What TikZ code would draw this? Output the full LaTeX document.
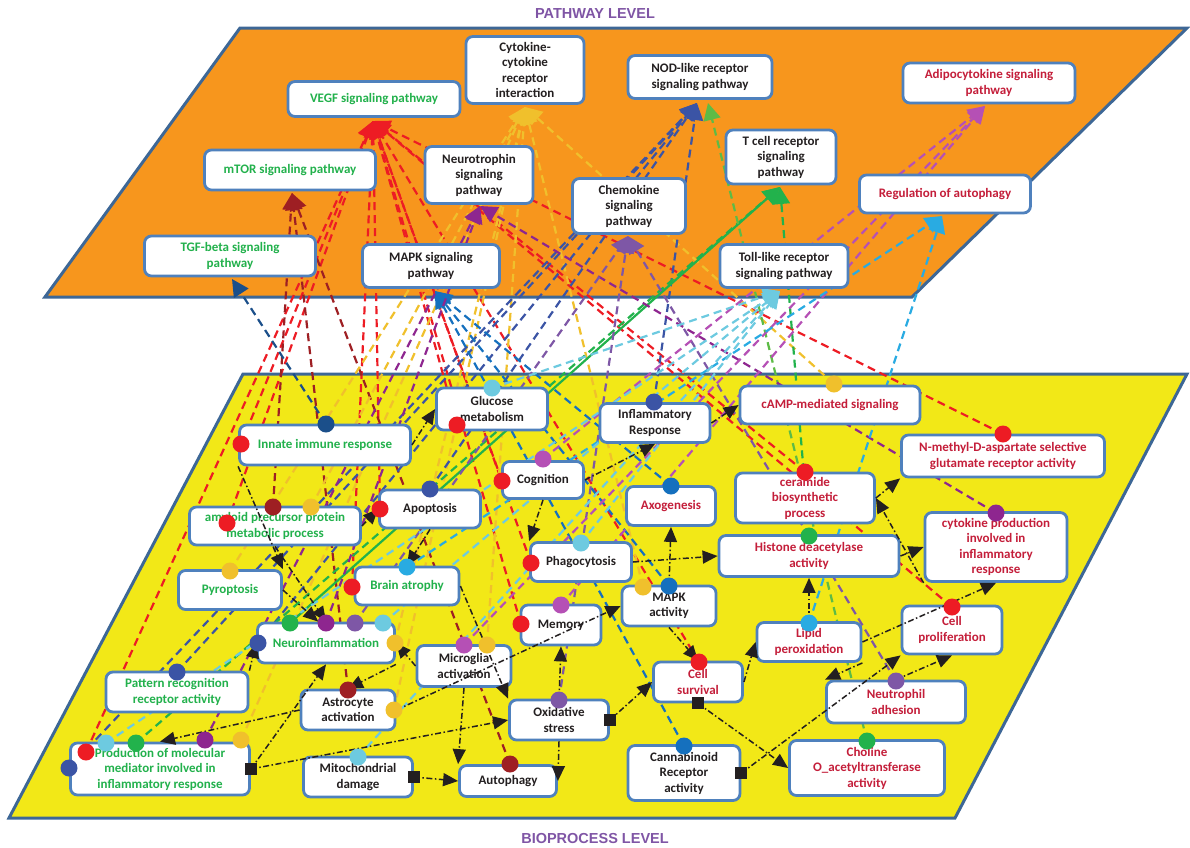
\documentclass[tikz,border=0pt]{standalone}
\usepackage{fontspec}
\setmainfont{Carlito}
\newfontfamily\ttlf{Liberation Sans}
\usetikzlibrary{arrows.meta}
\definecolor{orgF}{HTML}{F7961D}
\definecolor{yelF}{HTML}{F2E817}
\definecolor{frame}{HTML}{3D6796}
\definecolor{bbord}{HTML}{4F81BD}
\definecolor{ttl}{HTML}{7F55A5}
\definecolor{tgreen}{HTML}{22B14C}
\definecolor{tred}{HTML}{C41E3A}
\definecolor{tblack}{HTML}{231F20}
\definecolor{cRed}{HTML}{ED1C24}
\definecolor{cMaroon}{HTML}{9E1F23}
\definecolor{cGold}{HTML}{F0C02C}
\definecolor{cNavy}{HTML}{1B4F8A}
\definecolor{cRoyal}{HTML}{3B54A5}
\definecolor{cMed}{HTML}{1570BE}
\definecolor{cSky}{HTML}{29ABE2}
\definecolor{cCyan}{HTML}{6DCAE0}
\definecolor{cGreen}{HTML}{22B24C}
\definecolor{cLGreen}{HTML}{5DBB46}
\definecolor{cPurple}{HTML}{8E268F}
\definecolor{cViolet}{HTML}{7E57A6}
\definecolor{cOrchid}{HTML}{B550B5}
\tikzset{
  box/.style={draw=bbord, line width=2.8pt, rounded corners=7pt, fill=white, align=center, inner sep=2pt,
    font=\bfseries\fontsize{13}{15.5}\selectfont},
  cl/.style={draw=#1, line width=2.2pt, dash pattern=on 8pt off 5pt, -{Triangle[length=17pt,width=17pt]}},
  bl/.style={draw=tblack, line width=1.5pt, dash pattern=on 6pt off 2.5pt on 1.5pt off 2.5pt, -{Triangle[length=15pt,width=13pt]}},
  ttlstyle/.style={font=\ttlf\bfseries\fontsize{14.5}{17}\selectfont, text=ttl}
}
\newcommand{\bx}[7]{\node[box, minimum width=#4pt, minimum height=#5pt, text=#6] (#1) at (#2,#3) {#7};}
\newcommand{\mkdot}[2]{\fill[#1] (#2) circle (8.5pt);}
\newcommand{\mksq}[1]{\fill[tblack] (#1) ++(-6,-6) rectangle ++(12,12);}
\begin{document}
\begin{tikzpicture}[x=1pt,y=-1pt]
\useasboundingbox (0,0) rectangle (1190,847);
% planes
\draw[fill=orgF, draw=frame, line width=3pt] (240,28) -- (1187,28) -- (912,297) -- (45,297) -- cycle;
\draw[fill=yelF, draw=frame, line width=3pt] (243,374) -- (1187,374) -- (955,818) -- (9,818) -- cycle;
\node[ttlstyle] (t1) at (595,14) {PATHWAY LEVEL};
\node[ttlstyle] (t2) at (595,838) {BIOPROCESS LEVEL};
% pathway tips
\coordinate (tV) at (373,121);
\coordinate (tC) at (525,107);
\coordinate (tN) at (697,103);
\coordinate (tNg) at (708,103);
\coordinate (tA) at (985,106);
\coordinate (tM) at (292,193);
\coordinate (tU) at (480,206);
\coordinate (tG) at (780,187);
\coordinate (tK) at (628,236);
\coordinate (tR) at (942,216);
\coordinate (tT) at (232,279);
\coordinate (tP) at (435,291);
\coordinate (tL) at (780,291);
% dots
\coordinate (r1) at (241,444); \coordinate (r2) at (227,523); \coordinate (r3) at (86,752);
\coordinate (r4) at (457,425); \coordinate (r5) at (502,481); \coordinate (r6) at (380,509);
\coordinate (r7) at (531,563); \coordinate (r8) at (521,624); \coordinate (r9) at (805,472);
\coordinate (r10) at (1003,434); \coordinate (r11) at (699,662); \coordinate (r12) at (952,607);
\coordinate (r13) at (352,587);
\coordinate (m1) at (273,507); \coordinate (m2) at (348,690); \coordinate (m3) at (510,764);
\coordinate (g1) at (834,384); \coordinate (g2) at (311,507); \coordinate (g3) at (230,571);
\coordinate (g4) at (643,587); \coordinate (g5) at (395,643); \coordinate (g6) at (487,645);
\coordinate (g7) at (394,710); \coordinate (g8) at (241,740);
\coordinate (n1) at (326,424);
\coordinate (b1) at (654,402); \coordinate (b2) at (430,489); \coordinate (b3) at (177,672);
\coordinate (b4) at (258,643); \coordinate (b5) at (69,768);
\coordinate (e1) at (671,486); \coordinate (e2) at (669,586); \coordinate (e3) at (684,746);
\coordinate (gr1) at (290,623); \coordinate (gr2) at (136,743); \coordinate (gr3) at (809,536); \coordinate (gr4) at (867,741);
\coordinate (p1) at (996,513); \coordinate (p2) at (326,623); \coordinate (p3) at (205,740);
\coordinate (v1) at (355,623); \coordinate (v2) at (559,700); \coordinate (v3) at (896,681);
\coordinate (o1) at (543,459); \coordinate (o2) at (561,605); \coordinate (o3) at (464,645);
\coordinate (s1) at (407,567); \coordinate (s2) at (809,623);
\coordinate (c1) at (492,388); \coordinate (c2) at (581,543); \coordinate (c3) at (383,623);
\coordinate (c4) at (106,743); \coordinate (c5) at (358,757);
% coloured dashed links
\foreach \d in {r1,r2,r3,r4,r5,r6,r7,r8,r9,r10,r11,r12,r13} {\draw[cl=cRed] (\d) -- (tV);}
\foreach \d in {m1,m2,m3} {\draw[cl=cMaroon] (\d) -- (tM);}
\foreach \d in {g1,g2,g3,g4,g5,g6,g7,g8} {\draw[cl=cGold] (\d) -- (tC);}
\draw[cl=cNavy] (n1) -- (tT);
\foreach \d in {b1,b2,b3,b4,b5} {\draw[cl=cRoyal] (\d) -- (tN);}
\foreach \d in {e1,e2,e3} {\draw[cl=cMed] (\d) -- (tP);}
\draw[cl=cGreen, solid] (gr1) -- (tG);
\foreach \d in {gr2,gr3} {\draw[cl=cGreen] (\d) -- (tG);}
\draw[cl=cLGreen] (gr4) -- (tNg);
\foreach \d in {p1,p2,p3} {\draw[cl=cPurple] (\d) -- (tU);}
\foreach \d in {v1,v2,v3} {\draw[cl=cViolet] (\d) -- (tK);}
\foreach \d in {o1,o2,o3} {\draw[cl=cOrchid] (\d) -- (tA);}
\foreach \d in {s1,s2} {\draw[cl=cSky] (\d) -- (tR);}
\foreach \d in {c1,c2,c3,c4,c5} {\draw[cl=cCyan] (\d) -- (tL);}
% pathway boxes
\bx{vegf}{374}{99}{172}{35}{tgreen}{VEGF signaling pathway}
\bx{cyto}{525}{70}{118}{67}{tblack}{Cytokine-\\cytokine\\receptor\\interaction}
\bx{nod}{700}{77}{144}{43}{tblack}{NOD-like receptor\\signaling pathway}
\bx{adipo}{989}{83}{172}{40}{tred}{Adipocytokine signaling\\pathway}
\bx{mtor}{290}{170}{171}{40}{tgreen}{mTOR signaling pathway}
\bx{neurot}{479}{175}{108}{57}{tblack}{Neurotrophin\\signaling\\pathway}
\bx{tcell}{781}{157}{110}{54}{tblack}{T cell receptor\\signaling\\pathway}
\bx{chemo}{629}{206}{113}{55}{tblack}{Chemokine\\signaling\\pathway}
\bx{regaut}{945}{194}{171}{38}{tred}{Regulation of autophagy}
\bx{tgf}{230}{256}{171}{40}{tgreen}{TGF-beta signaling\\pathway}
\bx{mapks}{431}{266}{137}{43}{tblack}{MAPK signaling\\pathway}
\bx{toll}{784}{266}{128}{43}{tblack}{Toll-like receptor\\signaling pathway}
% bioprocess boxes
\bx{glucose}{492}{409}{111}{42}{tblack}{Glucose\\metabolism}
\bx{inflam}{655}{423}{110}{39}{tblack}{Inflammatory\\Response}
\bx{camp}{830}{405}{180}{38}{tred}{cAMP-mediated signaling}
\bx{innate}{325}{445}{171}{40}{tgreen}{Innate immune response}
\bx{nmda}{1003}{456}{203}{42}{tred}{N-methyl-D-aspartate selective\\glutamate receptor activity}
\bx{cog}{543}{480}{81}{37}{tblack}{Cognition}
\bx{apopt}{430}{509}{101}{38}{tblack}{Apoptosis}
\bx{axo}{671}{506}{89}{39}{tred}{Axogenesis}
\bx{ceram}{805}{498}{139}{50}{tred}{ceramide\\biosynthetic\\process}
\bx{amyl}{275}{526}{171}{38}{tgreen}{amyloid precursor protein\\metabolic process}
\bx{cytop}{996}{547}{142}{69}{tred}{cytokine production\\involved in\\inflammatory\\response}
\bx{histone}{809}{556}{180}{41}{tred}{Histone deacetylase\\activity}
\bx{phago}{581}{562}{101}{39}{tblack}{Phagocytosis}
\bx{pyro}{230}{590}{103}{39}{tgreen}{Pyroptosis}
\bx{brain}{407}{586}{104}{38}{tgreen}{Brain atrophy}
\bx{mapka}{669}{606}{94}{40}{tblack}{MAPK\\activity}
\bx{memory}{561}{625}{80}{40}{tblack}{Memory}
\bx{cellp}{952}{630}{100}{48}{tred}{Cell\\proliferation}
\bx{lipid}{809}{642}{104}{39}{tred}{Lipid\\peroxidation}
\bx{neuro}{326}{643}{137}{40}{tgreen}{Neuroinflammation}
\bx{micro}{464}{666}{94}{41}{tblack}{Microglia\\activation}
\bx{pattern}{177}{692}{142}{40}{tgreen}{Pattern recognition\\receptor activity}
\bx{cells}{698}{682}{89}{40}{tred}{Cell\\survival}
\bx{neutro}{896}{702}{139}{42}{tred}{Neutrophil\\adhesion}
\bx{astro}{348}{710}{94}{40}{tblack}{Astrocyte\\activation}
\bx{oxid}{559}{720}{99}{40}{tblack}{Oxidative\\stress}
\bx{prod}{160}{769}{179}{52}{tgreen}{Production of molecular\\mediator involved in\\inflammatory response}
\bx{choline}{867}{768}{155}{55}{tred}{Choline\\O\_acetyltransferase\\activity}
\bx{mito}{358}{777}{109}{40}{tblack}{Mitochondrial\\damage}
\bx{autoph}{508}{781}{97}{31}{tblack}{Autophagy}
\bx{cannab}{684}{773}{112}{55}{tblack}{Cannabinoid\\Receptor\\activity}
% black dash-dot relations
\draw[bl] (prod.east) -- (neuro.south);
\draw[bl] (astro.west) -- (prod.north);
\draw[bl] (prod.east) -- (oxid.west);
\draw[bl] (mito.east) -- (autoph.west);
\draw[bl] (oxid.east) -- (cells.west);
\draw[bl] (oxid.south) -- (autoph.east);
\draw[bl] (cells.south) -- (choline.west);
\draw[bl] (cannab.east) -- (cellp.south west);
\draw[bl] (mapka.north) -- (axo.south);
\draw[bl] (phago.east) -- (histone.west);
\draw[bl] (mapka.south) -- (cells.north);
\draw[bl] (cells.east) -- (lipid.west);
\draw[bl] (histone.east) -- (cytop.west);
\draw[bl] (ceram.east) -- (nmda.south west);
\draw[bl] (cytop.south west) -- (ceram.east);
\draw[bl] (lipid.north) -- (histone.south);
\draw[bl] (lipid.east) -- (cytop.south);
\draw[bl] (oxid.north) -- (memory.south);
\draw[bl] (inflam.east) -- (camp.west);
\draw[bl] (cog.east) -- (inflam.south);
\draw[bl] (innate.east) -- (glucose.west);
\draw[bl] (amyl.east) -- (apopt.west);
\draw[bl] (pyro.east) -- (neuro.110);
\draw[bl] (amyl.south) -- (neuro.north);
\draw[bl] (micro.west) -- (neuro.east);
\draw[bl] (neuro.south east) -- (astro.north);
\draw[bl] (apopt.south) -- (brain.north);
\draw[bl] (cog.south) -- (phago.north west);
\draw[bl] (brain.east) -- (oxid.north west);
\draw[bl] (micro.south) -- (autoph.north west);
\draw[bl] (pattern.north east) -- (neuro.west);
\draw[bl] (lipid.south east) -- (neutro.north west);
\draw[bl] (neutro.north) -- (cellp.south);
\draw[bl] (astro.east) -- (mapka.west);
\draw[bl] (innate.south west) -- (pyro.north east);
% source markers
\mksq{prod.east} \mksq{mito.east} \mksq{oxid.east} \mksq{cells.south} \mksq{cannab.east}
% dots
\foreach \d in {r1,r2,r3,r4,r5,r6,r7,r8,r9,r10,r11,r12,r13} {\mkdot{cRed}{\d}}
\foreach \d in {m1,m2,m3} {\mkdot{cMaroon}{\d}}
\foreach \d in {g1,g2,g3,g4,g5,g6,g7,g8} {\mkdot{cGold}{\d}}
\mkdot{cNavy}{n1}
\foreach \d in {b1,b2,b3,b4,b5} {\mkdot{cRoyal}{\d}}
\foreach \d in {e1,e2,e3} {\mkdot{cMed}{\d}}
\foreach \d in {gr1,gr2,gr3,gr4} {\mkdot{cGreen}{\d}}
\foreach \d in {p1,p2,p3} {\mkdot{cPurple}{\d}}
\foreach \d in {v1,v2,v3} {\mkdot{cViolet}{\d}}
\foreach \d in {o1,o2,o3} {\mkdot{cOrchid}{\d}}
\foreach \d in {s1,s2} {\mkdot{cSky}{\d}}
\foreach \d in {c1,c2,c3,c4,c5} {\mkdot{cCyan}{\d}}
\end{tikzpicture}
\end{document}
